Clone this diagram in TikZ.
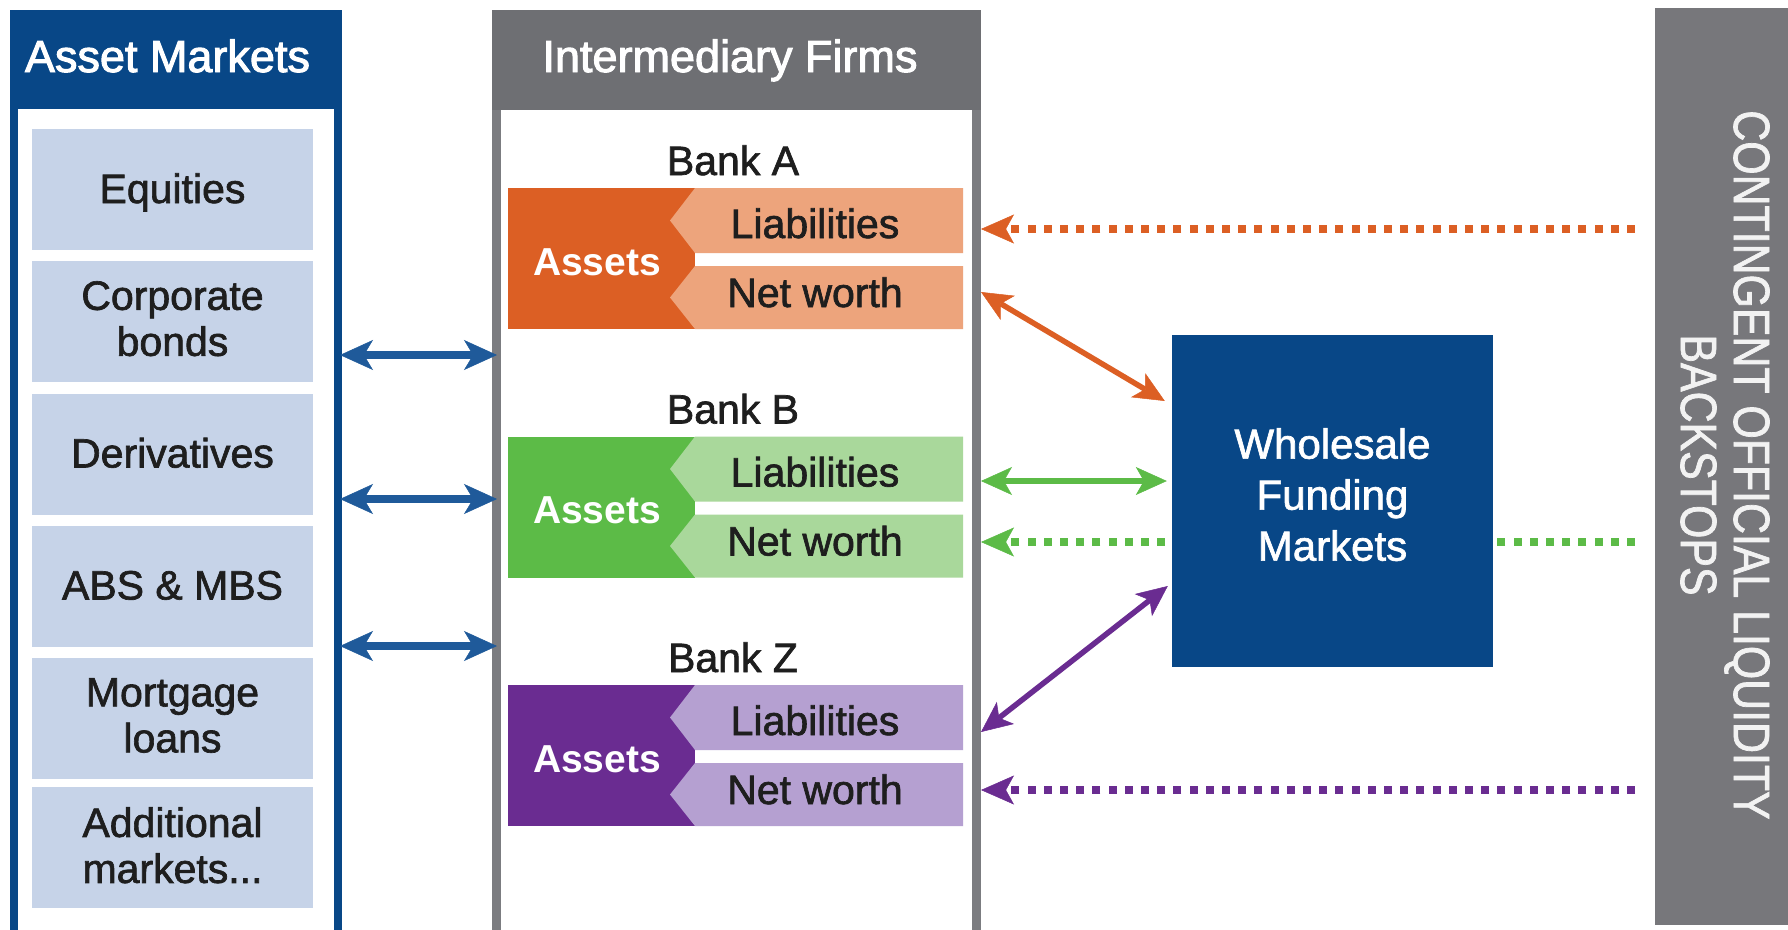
\documentclass[tikz,border=0pt]{standalone}
\usepackage{fontspec}
\setmainfont{Liberation Sans}
\newfontfamily\medfont[FakeBold=1.6]{Liberation Sans}
\newfontfamily\headfont[FakeBold=2.2]{Liberation Sans}
\newfontfamily\condfont[FakeStretch=0.84,FakeBold=1.4]{Liberation Sans}
\usetikzlibrary{arrows.meta}

\definecolor{navy}{HTML}{084787}
\definecolor{itemblue}{HTML}{C6D3E8}
\definecolor{linkblue}{HTML}{1F5A9A}
\definecolor{firmgray}{HTML}{7B7C80}
\definecolor{headgray}{HTML}{6E6F73}
\definecolor{bargray}{HTML}{77777B}
\definecolor{inktext}{HTML}{1E1E1E}
\definecolor{orgDark}{HTML}{DC5F24}
\definecolor{orgLight}{HTML}{EDA47C}
\definecolor{grnDark}{HTML}{5CBB47}
\definecolor{grnLight}{HTML}{A9D89B}
\definecolor{prpDark}{HTML}{6A2C91}
\definecolor{prpLight}{HTML}{B5A0D1}

% one bank balance sheet: #1 name, #2 top edge, #3 asset colour, #4 claim colour, #5 label
\newcommand{\drawbank}[5]{%
  \fill[#3] (508,#2) rectangle (695,{#2+141});
  \fill[#4] (695,#2) -- (963,#2) -- (963,{#2+65}) -- (695,{#2+65}) -- (670,{#2+32.5}) -- cycle;
  \fill[#4] (695,{#2+78}) -- (963,{#2+78}) -- (963,{#2+141}) -- (695,{#2+141}) -- (670,{#2+109.5}) -- cycle;
  \node[banklabel] (#1) at (733,{#2-13}) {#5};
  \node[assettxt] (#1as) at (597,{#2+87}) {Assets};
  \node[striptxt] (#1li) at (815,{#2+50}) {Liabilities};
  \node[striptxt] (#1nw) at (815,{#2+119}) {Net worth};
}

\begin{document}
\begin{tikzpicture}[x=1pt,y=-1pt,
  amframe/.style={draw=navy, line width=8pt, fill=white, inner sep=0pt},
  firmframe/.style={draw=firmgray, line width=9pt, fill=white, inner sep=0pt},
  headtxt/.style={anchor=base, inner sep=0pt, text=white, font=\headfont\fontsize{45}{54}\selectfont},
  itembox/.style={fill=itemblue, minimum width=281pt, minimum height=121pt, inner sep=0pt},
  itemone/.style={anchor=base, inner sep=0pt, text=inktext, font=\medfont\fontsize{41}{46}\selectfont},
  itemtwo/.style={anchor=north, inner sep=0pt, align=center, text=inktext, font=\medfont\fontsize{41}{46}\selectfont},
  banklabel/.style={anchor=base, inner sep=0pt, text=inktext, font=\medfont\fontsize{41}{49}\selectfont},
  assettxt/.style={anchor=base, inner sep=0pt, text=white, font=\bfseries\fontsize{39}{47}\selectfont},
  striptxt/.style={anchor=base, inner sep=0pt, text=inktext, font=\medfont\fontsize{41}{49}\selectfont},
  linkarrow/.style={draw=linkblue, line width=7.5pt,
    {Stealth[length=33pt,width=30pt,inset=9pt,line width=0.5pt]}-{Stealth[length=33pt,width=30pt,inset=9pt,line width=0.5pt]},
    shorten <=-2pt, shorten >=-5pt},
  fundarrow/.style={line width=5.5pt,
    {Stealth[length=31pt,width=28pt,inset=8pt,line width=0.5pt]}-{Stealth[length=31pt,width=28pt,inset=8pt,line width=0.5pt]}},
  backstop/.style={line width=8pt, dash pattern=on 8pt off 8.2pt,
    -{Stealth[length=33pt,width=29pt,inset=8pt,line width=0.5pt]}},
]
\useasboundingbox (0,0) rectangle (1788,929);
\clip (0,0) rectangle (1788,929);

% ---- asset markets column
\node[amframe, anchor=north west, minimum width=324.5pt, minimum height=926pt] (am) at (9.5,10) {};
\fill[navy] (am.north west) rectangle (am.east |- 0,109);
\node[headtxt] (amh) at (167.5,72) {Asset Markets};

\node[itembox] (i1) at (172.5,189.5) {};
\node[itembox] (i2) at (172.5,321.5) {};
\node[itembox] (i3) at (172.5,454) {};
\node[itembox] (i4) at (172.5,586) {};
\node[itembox] (i5) at (172.5,718.5) {};
\node[itembox] (i6) at (172.5,847) {};
\node[itemone] (t1) at (172.5,203) {Equities};
\node[itemtwo] (t2) at (172.5,281) {Corporate\\bonds};
\node[itemone] (t3) at (172.5,467.5) {Derivatives};
\node[itemone] (t4) at (172.5,599.5) {ABS \& MBS};
\node[itemtwo] (t5) at (172.5,678) {Mortgage\\loans};
\node[itemtwo] (t6) at (172.5,807) {Additional\\markets...};

% ---- intermediary firms column
\node[firmframe, anchor=north west, minimum width=480pt, minimum height=940pt] (firms) at (492,10) {};
\fill[headgray] (firms.north west) rectangle (firms.east |- 0,110);
\node[headtxt] (fh) at (730,72) {Intermediary Firms};

\drawbank{bankA}{188}{orgDark}{orgLight}{Bank A}
\drawbank{bankB}{436.5}{grnDark}{grnLight}{Bank B}
\drawbank{bankZ}{685}{prpDark}{prpLight}{Bank Z}

% ---- links between asset markets and firms
\draw[linkarrow] (am.east |- 0,355) -- (firms.west |- 0,355);
\draw[linkarrow] (am.east |- 0,499) -- (firms.west |- 0,499);
\draw[linkarrow] (am.east |- 0,646) -- (firms.west |- 0,646);

% ---- official backstop column
\node[fill=bargray, anchor=north west, minimum width=140pt, minimum height=917pt, inner sep=0pt] (bar) at (1655,8) {};
\node[rotate=-90, align=center, inner sep=0pt, text=white!95!black,
      font=\condfont\fontsize{51}{53}\selectfont] (bart) at (1725,465)
      {CONTINGENT OFFICIAL LIQUIDITY\\BACKSTOPS};

\coordinate (oA) at (1635,229);
\coordinate (gB) at (1635,542);
\coordinate (pZ) at (1635,790);
\draw[backstop, draw=orgDark] (oA) -- (firms.east |- oA);
\draw[backstop, draw=grnDark] (gB) -- (firms.east |- gB);
\draw[backstop, draw=prpDark] (pZ) -- (firms.east |- pZ);

% ---- wholesale funding markets
\node[fill=navy, minimum width=321pt, minimum height=332pt, inner sep=0pt] (wfm) at (1332.5,501) {};
\node[anchor=north, align=center, inner sep=0pt, text=white,
      font=\medfont\fontsize{42}{51}\selectfont] (wfmt) at (1332.5,428) {Wholesale\\Funding\\Markets};

\draw[fundarrow, draw=orgDark] (firms.east |- 0,292) -- ([xshift=-7pt]wfm.west |- 0,401);
\draw[fundarrow, draw=grnDark] (firms.east |- 0,481) -- ([xshift=-5pt]wfm.west |- 0,481);
\draw[fundarrow, draw=prpDark] (firms.east |- 0,732) -- ([xshift=-4pt]wfm.west |- 0,586);
\end{tikzpicture}
\end{document}
